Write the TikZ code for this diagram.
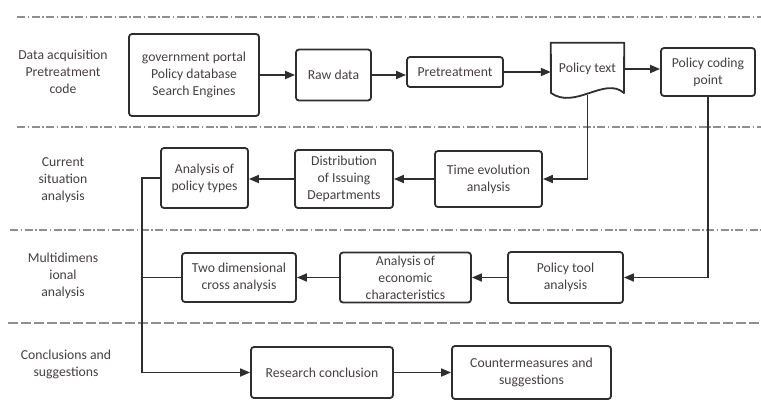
\documentclass[tikz,border=0pt]{standalone}
\usepackage{fontspec}
\setmainfont{Carlito}
\usepackage{tikz}
\usetikzlibrary{positioning, arrows.meta}
\definecolor{linec}{HTML}{2E2E2E}
\definecolor{textc}{HTML}{463F3F}
\definecolor{sepc}{HTML}{8F8F8F}

\begin{document}
\begin{tikzpicture}[x=1pt, y=-1pt,
  every node/.style={font=\fontsize{13.7}{17}\selectfont, text=textc, align=center},
  box/.style={draw=linec, line width=1.8pt, rounded corners=3pt, inner sep=2pt},
  flow/.style={draw=linec, line width=1.7pt, -{Triangle[length=10pt, width=8pt]}},
  link/.style={draw=linec, line width=1.7pt},
  sepdot/.style={draw=sepc, line width=1.8pt, dash pattern=on 8pt off 2.5pt on 1.5pt off 2.5pt},
  sepdash/.style={draw=sepc, line width=1.8pt, dash pattern=on 10pt off 3pt}]
\useasboundingbox (0,0) rectangle (761,410);

% stage separators
\draw[sepdot] (17,17) -- (761,17);
\draw[sepdot] (17,127) -- (761,127);
\draw[sepdot] (10,230) -- (761,230);
\draw[sepdash] (8,323) -- (761,323);

% stage labels
\node (lab1) at (63,72) {Data acquisition\\Pretreatment\\code};
\node (lab2) at (63,180) {Current\\situation\\analysis};
\node (lab3) at (63,276) {Multidimens\\ional\\analysis};
\node (lab4) at (66,364) {Conclusions and\\suggestions};

% first row
\node[box, minimum width=130pt, minimum height=82pt] (gov) at (194,75) {government portal\\Policy database\\Search Engines};
\node[box, minimum width=75pt, minimum height=51pt] (raw) at (333.5,75) {Raw data};
\node[box, minimum width=96pt, minimum height=30pt] (pret) at (455,72) {Pretreatment};
\node[minimum width=73pt, minimum height=52pt, inner sep=0pt] (ptext) at (587.5,69) {Policy text};
\draw[box, rounded corners=0pt, line join=round] (ptext.north west) -- (ptext.north east) -- (624,93)
  .. controls (605,76) and (575,110) .. (551,93) -- cycle;
\node[box, minimum width=94pt, minimum height=48pt] (coding) at (708,72) {Policy coding\\point};

% second row
\node[box, minimum width=87pt, minimum height=60pt] (types) at (204.5,178) {Analysis of\\policy types};
\node[box, minimum width=98pt, minimum height=58pt] (distrib) at (344,179) {Distribution\\of Issuing\\Departments};
\node[box, minimum width=107pt, minimum height=56pt] (timeev) at (488.5,179) {Time evolution\\analysis};

% third row
\node[box, minimum width=114pt, minimum height=49pt] (twodim) at (239,277.5) {Two dimensional\\cross analysis};
\node[box, minimum width=131pt, minimum height=50pt] (econ) at (405.5,277.5) {Analysis of\\economic\\characteristics};
\node[box, minimum width=115pt, minimum height=51pt] (tool) at (565.5,277.5) {Policy tool\\analysis};

% fourth row
\node[box, minimum width=142pt, minimum height=51pt] (research) at (322,372.5) {Research conclusion};
\node[box, minimum width=159pt, minimum height=53pt] (counter) at (531.5,372.5) {Countermeasures and\\suggestions};

\coordinate (tk1) at (142,178);
\coordinate (tk2) at (142,372.5);

\draw[flow] (gov) -- (raw);
\draw[flow] (raw.east) -- (raw.east -| pret.west);
\draw[flow] (pret.east) -- (pret.east -| ptext.west);
\draw[flow] (ptext.east) -- (ptext.east -| coding.west);
\draw[flow] (ptext.south) |- (timeev.east);
\draw[flow] (timeev) -- (distrib);
\draw[flow] (distrib.west) -- (distrib.west -| types.east);
\draw[flow] (coding.south) |- (tool.east);
\draw[flow] (tool) -- (econ);
\draw[flow] (econ) -- (twodim);
\draw[flow] (types.west) -- (tk1) -- (tk2) -- (research.west);
\draw[link] (twodim.west) -- (twodim.west -| tk1);
\draw[flow] (research) -- (counter);
\end{tikzpicture}
\end{document}
